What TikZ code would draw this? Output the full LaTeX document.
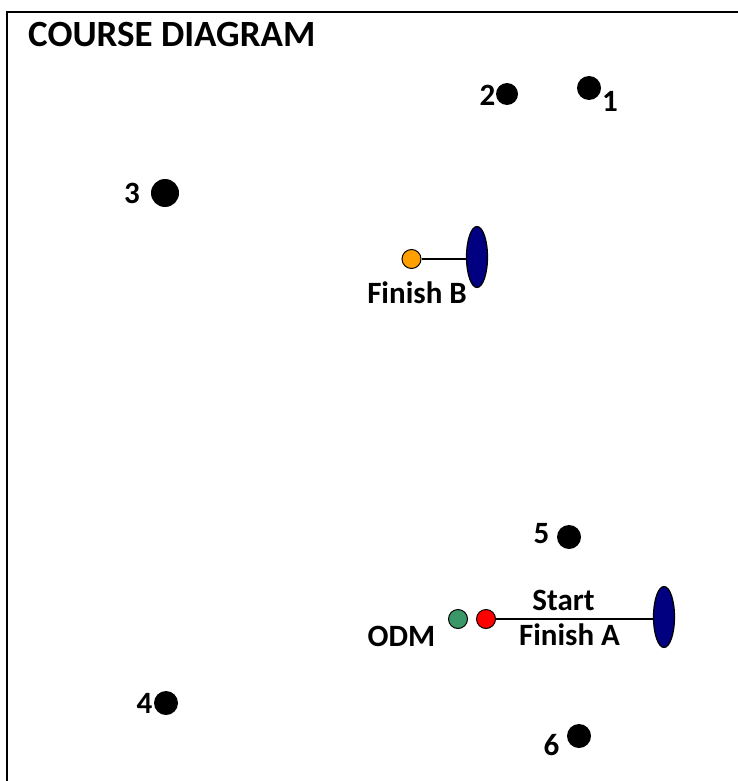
\documentclass[tikz,border=0pt]{standalone}
\usepackage{fontspec}
\setmainfont{Carlito}
\usetikzlibrary{shapes.geometric}
\definecolor{markorange}{RGB}{255,160,0}
\definecolor{odmgreen}{RGB}{58,152,104}
\definecolor{startred}{RGB}{255,0,0}
\definecolor{buoynavy}{RGB}{0,0,128}
\tikzset{
  mark dot/.style={circle, fill=black, draw=none, minimum size=#1, inner sep=0pt},
  small buoy/.style={circle, fill=#1, draw=black, line width=1pt, minimum size=19pt, inner sep=0pt},
  end buoy/.style={ellipse, fill=buoynavy, draw=black, line width=1.2pt, minimum width=21pt, minimum height=61pt, inner sep=0pt},
  lbl/.style={font=\fontsize{31}{36}\selectfont\bfseries, inner sep=0pt, anchor=base},
  titlelbl/.style={font=\fontsize{37}{42}\selectfont\bfseries, inner sep=0pt, anchor=base west},
  lineconn/.style={line width=1.8pt, draw=black}
}
\begin{document}
\begin{tikzpicture}[x=1pt,y=-1pt]
\useasboundingbox (0,0) rectangle (738,781);
\begin{scope}
\clip (0,0) rectangle (738,781);
\draw[line width=2.4pt] (7,12) rectangle (800,840);
\end{scope}
\node[titlelbl] (title) at (28,47) {COURSE DIAGRAM};
% marks
\node[mark dot=24pt] (m1) at (589,88) {};
\node[lbl] (l1) at (610,112) {1};
\node[mark dot=22pt] (m2) at (507,94) {};
\node[lbl] (l2) at (487.5,106) {2};
\node[mark dot=28pt] (m3) at (165,193) {};
\node[lbl] (l3) at (132,203) {3};
\node[mark dot=24pt] (m4) at (166,703) {};
\node[lbl] (l4) at (144.5,713) {4};
\node[mark dot=24pt] (m5) at (569,537) {};
\node[lbl] (l5) at (541.5,543) {5};
\node[mark dot=24pt] (m6) at (579,736) {};
\node[lbl] (l6) at (551.5,755) {6};
% finish B
\node[small buoy=markorange] (oB) at (411.5,259) {};
\node[end buoy] (eB) at (477,257) {};
\draw[lineconn] (oB) -- (eB.west |- oB);
\node[lbl] (fB) at (417,303) {Finish B};
% start / finish A
\node[small buoy=odmgreen] (odm) at (458,619) {};
\node[small buoy=startred] (pin) at (486,619) {};
\node[end buoy] (eA) at (664,617) {};
\draw[lineconn] (pin) -- (eA.west |- pin);
\node[lbl] (st) at (563.5,610) {Start};
\node[lbl] (fA) at (569.5,645) {Finish A};
\node[lbl] (od) at (401.5,646) {ODM};
\end{tikzpicture}
\end{document}
